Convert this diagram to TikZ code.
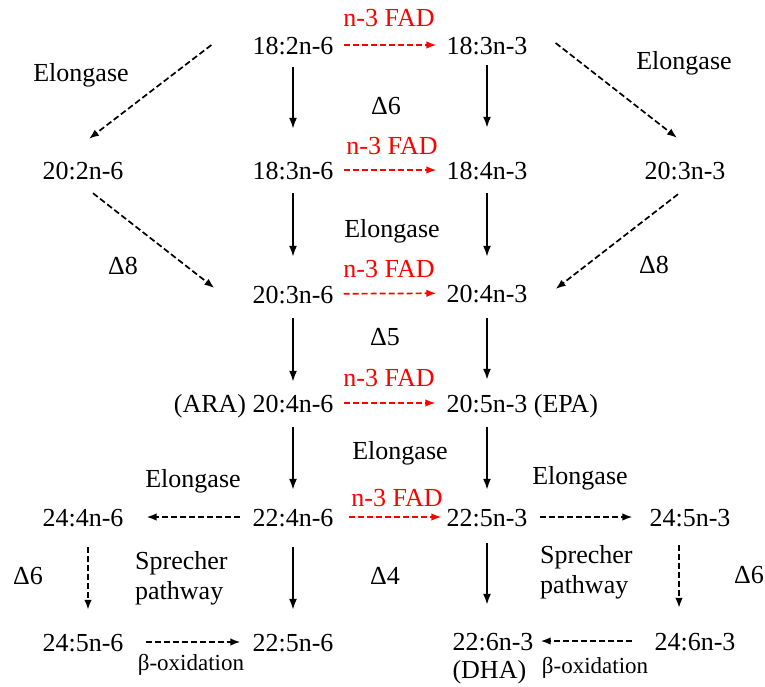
\documentclass[tikz,border=0pt]{standalone}
\usepackage{fontspec}
\setmainfont{Liberation Serif}
\usetikzlibrary{arrows.meta,positioning}

\begin{document}
\begin{tikzpicture}[x=1pt, y=-1pt,
        acid/.style={inner sep=0pt, text height=18pt, text depth=0pt, font=\fontsize{26}{30}\selectfont},
        lbl/.style={inner sep=0pt, font=\fontsize{26}{30}\selectfont},
        fadlbl/.style={lbl, text=red},
        oxlbl/.style={inner sep=0pt, font=\fontsize{23}{27}\selectfont},
        conv/.style={line width=1.9pt, -{Latex[length=11pt,width=8pt]}},
        alt/.style={line width=1.7pt, dash pattern=on 6pt off 3pt, -{Latex[length=10pt,width=7.5pt]}},
        fadarr/.style={alt, red}]
            \useasboundingbox (0,0) rectangle (765,686);

            % n-6 side
            \node[acid] (a1) at (293,45) {18:2n-6};
            \node[acid] (a0) at (83,170) {20:2n-6};
            \node[acid] (a2) at (293,170) {18:3n-6};
            \node[acid] (a3) at (293,294) {20:3n-6};
            \node[acid] (a4) at (293,403) {20:4n-6};
            \node[lbl, base left=6pt of a4] (ara) {(ARA)};
            \node[acid] (a5) at (293,517) {22:4n-6};
            \node[acid] (a6) at (83,517) {24:4n-6};
            \node[acid] (a7) at (83,642) {24:5n-6};
            \node[acid] (a8) at (293,642) {22:5n-6};

            % n-3 side
            \node[acid] (b1) at (487,45) {18:3n-3};
            \node[acid] (b2) at (487,170) {18:4n-3};
            \node[acid] (b0) at (685,170) {20:3n-3};
            \node[acid] (b3) at (487,293) {20:4n-3};
            \node[acid] (b4) at (487,403) {20:5n-3};
            \node[lbl, base right=6pt of b4] (epa) {(EPA)};
            \node[acid] (b5) at (487,517) {22:5n-3};
            \node[acid] (b6) at (690,517) {24:5n-3};
            \node[acid] (b7) at (493,641) {22:6n-3};
            \node[lbl, below right=10pt and 0pt of b7.south west] (dha) {(DHA)};
            \node[acid] (b8) at (695,641) {24:6n-3};

            % enzyme labels
            \node[fadlbl] (fad1) at (389,18) {n-3 FAD};
            \node[fadlbl] (fad2) at (392,146) {n-3 FAD};
            \node[fadlbl] (fad3) at (389,269) {n-3 FAD};
            \node[fadlbl] (fad4) at (389,378) {n-3 FAD};
            \node[fadlbl] (fad5) at (397,498) {n-3 FAD};
            \node[lbl] (elo1) at (81,75) {Elongase};
            \node[lbl] (elo2) at (684,63) {Elongase};
            \node[lbl] (elo3) at (392,231) {Elongase};
            \node[lbl] (elo4) at (400,453) {Elongase};
            \node[lbl] (elo5) at (193,481) {Elongase};
            \node[lbl] (elo6) at (580,478) {Elongase};
            \node[lbl] (d6a) at (386,106) {Δ6};
            \node[lbl] (d8a) at (123,266) {Δ8};
            \node[lbl] (d8b) at (654,265) {Δ8};
            \node[lbl] (d5) at (385,337) {Δ5};
            \node[lbl] (d4) at (385,576) {Δ4};
            \node[lbl] (d6b) at (28,576) {Δ6};
            \node[lbl] (d6c) at (749,575) {Δ6};
            \node[lbl, align=left, anchor=west] (spr1) at (135,578) {Sprecher\\pathway};
            \node[lbl, align=left, anchor=west] (spr2) at (540,572) {Sprecher\\pathway};
            \node[oxlbl] (ox1) at (191,665) {β-oxidation};
            \node[oxlbl] (ox2) at (595,668) {β-oxidation};

            % desaturase / elongase steps
            \draw[conv, shorten <=13pt, shorten >=32pt] (a1) -- (a2);
            \draw[conv, shorten <=14pt, shorten >=28pt] (a2) -- (a3);
            \draw[conv, shorten <=15pt, shorten >=12pt] (a3) -- (a4);
            \draw[conv, shorten <=15pt, shorten >=18pt] (a4) -- (a5);
            \draw[conv, shorten <=21pt, shorten >=23pt] (a5) -- (a8);
            \draw[conv, shorten <=11pt, shorten >=33pt] (b1) -- (b2);
            \draw[conv, shorten <=14pt, shorten >=27pt] (b2) -- (b3);
            \draw[conv, shorten <=16pt, shorten >=14pt] (b3) -- (b4);
            \draw[conv, shorten <=15pt, shorten >=18pt] (b4) -- (b5);
            \draw[conv, shorten <=17pt, shorten >=27pt] (b5.south) -- (b5.south |- b7.north);

            % n-3 FAD
            \draw[fadarr, shorten <=10pt, shorten >=10pt] (a1) -- (b1);
            \draw[fadarr, shorten <=10pt, shorten >=10pt] (a2) -- (b2);
            \draw[fadarr, shorten <=10pt, shorten >=10pt] (a3) -- (b3);
            \draw[fadarr, shorten <=10pt, shorten >=11pt] (a4) -- (b4);
            \draw[fadarr, shorten <=15pt, shorten >=5pt] (a5) -- (b5);

            % alternative routes
            \draw[alt] ([xshift=-41pt]a1.west) -- ([xshift=6pt,yshift=22pt]a0.north);
            \draw[alt] ([xshift=28pt,yshift=2pt]b1.east) -- ([xshift=-8pt,yshift=23pt]b0.north);
            \draw[alt] ([xshift=10pt,yshift=-14pt]a0.south) -- ([xshift=-38pt,yshift=6pt]a3.west);
            \draw[alt] ([xshift=-7pt,yshift=-15pt]b0.south) -- ([xshift=28pt,yshift=4pt]b3.east);
            \draw[alt, shorten <=12pt, shorten >=23pt] (a5) -- (a6);
            \draw[alt, shorten <=12pt, shorten >=17pt] (b5) -- (b6);
            \draw[alt, shorten <=21pt, shorten >=23pt] ([xshift=5pt]a6.south) -- ([xshift=5pt]a7.north);
            \draw[alt, shorten <=19pt, shorten >=24pt] ([xshift=-11pt]b6.south) -- ([xshift=-16pt]b8.north);
            \draw[alt, shorten <=22pt, shorten >=12pt] (a7) -- (a8);
            \draw[alt, shorten <=22pt, shorten >=7pt] (b8) -- (b7);
\end{tikzpicture}
\end{document}
